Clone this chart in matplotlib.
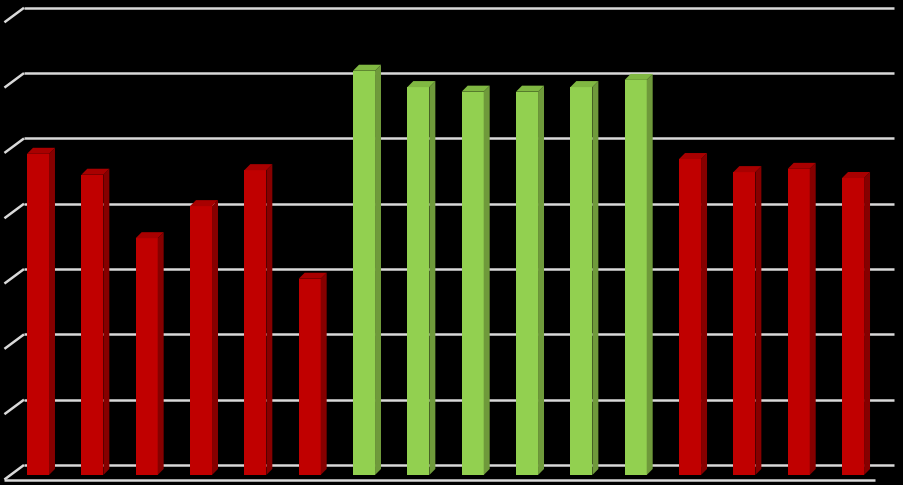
import matplotlib
matplotlib.use("Agg")
import matplotlib.pyplot as plt
from matplotlib.patches import Polygon

# ---- data ----
categories = list(range(1, 17))
values = [4.91, 4.59, 3.62, 4.11, 4.66, 3.00,
          6.18, 5.93, 5.86, 5.86, 5.93, 6.04,
          4.83, 4.63, 4.68, 4.54]
groups = ["red"] * 6 + ["green"] * 6 + ["red"] * 4
grid_levels = list(range(0, 8))

# ---- style ----
palette = {
    "red":   {"front": "#C00000", "side": "#860000", "top": "#A80000"},
    "green": {"front": "#92D050", "side": "#6F9A3B", "top": "#80B842"},
}
bar_w = 0.405
depth_dx, depth_dy = 0.110, 0.092        # bar depth projection
wall_dy = 0.153                           # back wall offset
floor_dx, floor_dy = 0.36, 0.222          # floor depth projection
grid_color = "#D9D9D9"

fig = plt.figure(figsize=(9.031, 4.851), dpi=100, facecolor="black")
ax = fig.add_axes([0, 0, 1, 1])
ax.set_facecolor("black")
ax.set_xlim(-0.6994, 15.921)
ax.set_ylim(-0.153, 7.263)
ax.axis("off")

n = len(values)
x_left_back = -0.258
x_right_back = 15.755
x_left_front = x_left_back - floor_dx

# back wall gridlines + left wall diagonals
for k in grid_levels:
    yb = k * (65.3 / 65.4) + wall_dy
    ax.plot([x_left_back, x_right_back], [yb, yb], color=grid_color, lw=1.8,
            solid_capstyle="butt", zorder=1)
    ax.plot([x_left_front, x_left_back], [yb - floor_dy, yb], color=grid_color,
            lw=1.8, solid_capstyle="butt", zorder=1)

# floor front edge
ax.plot([x_left_front, x_right_back - floor_dx], [wall_dy - floor_dy] * 2,
        color=grid_color, lw=1.8, solid_capstyle="butt", zorder=1)

# bars
for i, (v, g) in enumerate(zip(values, groups)):
    c = palette[g]
    x0 = i - bar_w / 2
    x1 = i + bar_w / 2
    ax.bar(i, v, width=bar_w, bottom=0, color=c["front"], zorder=3, linewidth=0)
    side = Polygon([(x1, 0), (x1 + depth_dx, depth_dy), (x1 + depth_dx, v + depth_dy), (x1, v)],
                   closed=True, facecolor=c["side"], edgecolor="none", zorder=3)
    top = Polygon([(x0, v), (x1, v), (x1 + depth_dx, v + depth_dy), (x0 + depth_dx, v + depth_dy)],
                  closed=True, facecolor=c["top"], edgecolor="none", zorder=3)
    ax.add_patch(side)
    ax.add_patch(top)

fig.savefig("out.png", dpi=100, facecolor="black")
